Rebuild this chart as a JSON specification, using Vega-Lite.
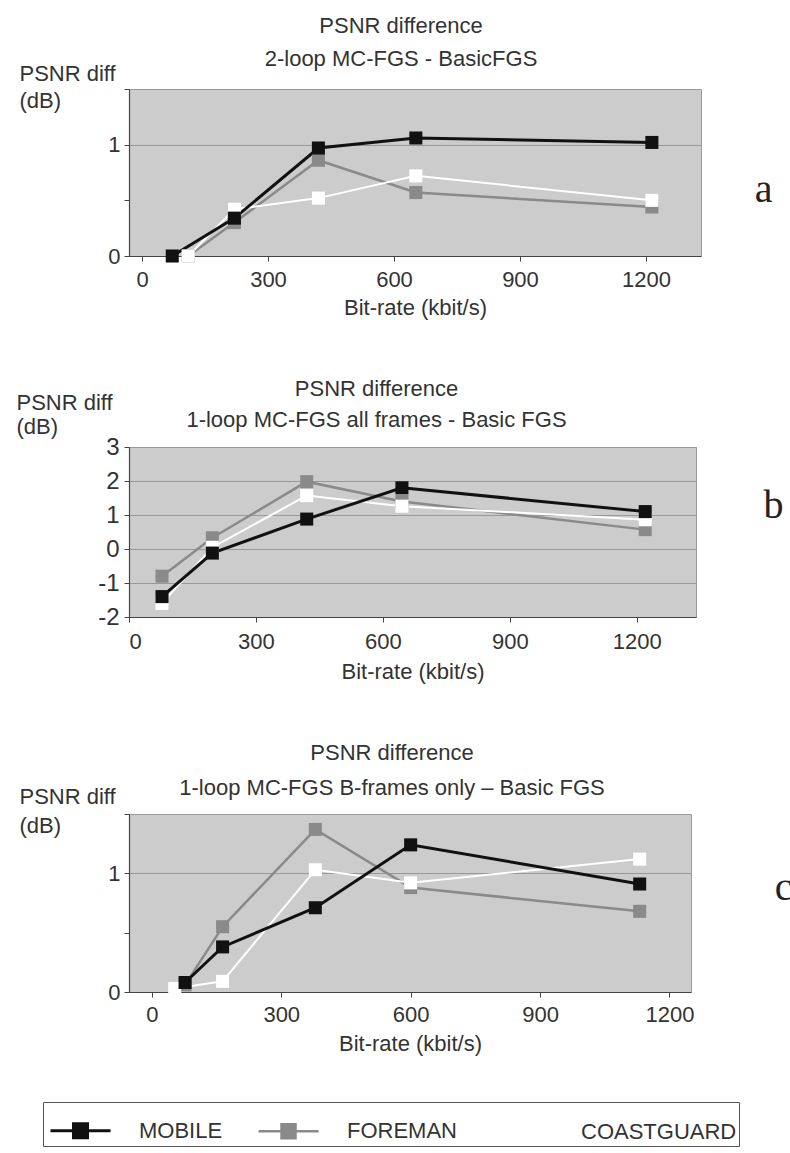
{
  "$schema": "https://vega.github.io/schema/vega-lite/v6.json",
  "padding": {"left": 15, "top": 14, "right": 0, "bottom": 0},
  "background": "white",
  "data": {"values": [
    {"panel": "a", "series": "FOREMAN", "rate": 110, "psnr": 0},
    {"panel": "a", "series": "FOREMAN", "rate": 220, "psnr": 0.3},
    {"panel": "a", "series": "FOREMAN", "rate": 420, "psnr": 0.86},
    {"panel": "a", "series": "FOREMAN", "rate": 652, "psnr": 0.57},
    {"panel": "a", "series": "FOREMAN", "rate": 1214, "psnr": 0.44},
    {"panel": "a", "series": "COASTGUARD", "rate": 110, "psnr": 0},
    {"panel": "a", "series": "COASTGUARD", "rate": 220, "psnr": 0.42},
    {"panel": "a", "series": "COASTGUARD", "rate": 420, "psnr": 0.52},
    {"panel": "a", "series": "COASTGUARD", "rate": 652, "psnr": 0.72},
    {"panel": "a", "series": "COASTGUARD", "rate": 1214, "psnr": 0.5},
    {"panel": "a", "series": "MOBILE", "rate": 72, "psnr": 0},
    {"panel": "a", "series": "MOBILE", "rate": 220, "psnr": 0.34},
    {"panel": "a", "series": "MOBILE", "rate": 420, "psnr": 0.97},
    {"panel": "a", "series": "MOBILE", "rate": 652, "psnr": 1.06},
    {"panel": "a", "series": "MOBILE", "rate": 1214, "psnr": 1.02},
    {"panel": "b", "series": "FOREMAN", "rate": 78, "psnr": -0.8},
    {"panel": "b", "series": "FOREMAN", "rate": 197, "psnr": 0.33},
    {"panel": "b", "series": "FOREMAN", "rate": 420, "psnr": 1.98},
    {"panel": "b", "series": "FOREMAN", "rate": 645, "psnr": 1.4},
    {"panel": "b", "series": "FOREMAN", "rate": 1220, "psnr": 0.57},
    {"panel": "b", "series": "COASTGUARD", "rate": 78, "psnr": -1.6},
    {"panel": "b", "series": "COASTGUARD", "rate": 197, "psnr": 0.05},
    {"panel": "b", "series": "COASTGUARD", "rate": 420, "psnr": 1.57},
    {"panel": "b", "series": "COASTGUARD", "rate": 645, "psnr": 1.26},
    {"panel": "b", "series": "COASTGUARD", "rate": 1220, "psnr": 0.86},
    {"panel": "b", "series": "MOBILE", "rate": 78, "psnr": -1.4},
    {"panel": "b", "series": "MOBILE", "rate": 197, "psnr": -0.12},
    {"panel": "b", "series": "MOBILE", "rate": 420, "psnr": 0.88},
    {"panel": "b", "series": "MOBILE", "rate": 645, "psnr": 1.8},
    {"panel": "b", "series": "MOBILE", "rate": 1220, "psnr": 1.1},
    {"panel": "c", "series": "FOREMAN", "rate": 77, "psnr": 0.06},
    {"panel": "c", "series": "FOREMAN", "rate": 164, "psnr": 0.55},
    {"panel": "c", "series": "FOREMAN", "rate": 379, "psnr": 1.37},
    {"panel": "c", "series": "FOREMAN", "rate": 600, "psnr": 0.88},
    {"panel": "c", "series": "FOREMAN", "rate": 1131, "psnr": 0.68},
    {"panel": "c", "series": "COASTGUARD", "rate": 53, "psnr": 0.03},
    {"panel": "c", "series": "COASTGUARD", "rate": 164, "psnr": 0.09},
    {"panel": "c", "series": "COASTGUARD", "rate": 379, "psnr": 1.03},
    {"panel": "c", "series": "COASTGUARD", "rate": 600, "psnr": 0.92},
    {"panel": "c", "series": "COASTGUARD", "rate": 1131, "psnr": 1.12},
    {"panel": "c", "series": "MOBILE", "rate": 77, "psnr": 0.08},
    {"panel": "c", "series": "MOBILE", "rate": 164, "psnr": 0.38},
    {"panel": "c", "series": "MOBILE", "rate": 379, "psnr": 0.71},
    {"panel": "c", "series": "MOBILE", "rate": 600, "psnr": 1.24},
    {"panel": "c", "series": "MOBILE", "rate": 1131, "psnr": 0.91}
  ]},
  "spacing": 58,
  "vconcat": [
    {
      "width": 572, "height": 167,
      "title": {"text": "PSNR difference", "subtitle": "2-loop MC-FGS - BasicFGS", "offset": -9, "dx": -14, "subtitlePadding": 11},
      "transform": [{"filter": "datum.panel == 'a'"}],
      "encoding": {
        "x": {"field": "rate", "type": "quantitative", "scale": {"domain": [-31, 1331], "nice": false, "zero": false},
              "axis": {"values": [0, 300, 600, 900, 1200], "labelExpr": "'' + datum.value", "grid": false, "title": "Bit-rate (kbit/s)", "labelPadding": 8, "titlePadding": 7, "tickSize": 5}}
      },
      "layer": [
        {"mark": {"type": "line"},
         "encoding": {
           "y": {"field": "psnr", "type": "quantitative", "scale": {"domain": [0, 1.5], "nice": false},
                 "axis": {"values": [0, 0.5, 1, 1.5], "labelExpr": "datum.value == 0 || datum.value == 1 ? '' + datum.value : ''",
                          "gridOpacity": {"condition": {"test": "datum.value == 1", "value": 1}, "value": 0},
                          "tickSize": 5, "labelPadding": 4,
                          "title": ["PSNR diff", "(dB)"], "titleAngle": 0, "titleAlign": "left", "titleBaseline": "top",
                          "titleX": -110, "titleY": -26, "titleLineHeight": 27}},
           "color": {"field": "series", "type": "nominal", "scale": {"domain": ["MOBILE", "FOREMAN", "COASTGUARD"], "range": ["#111111", "#8a8a8a", "#ffffff"]},
                     "legend": {"title": null, "orient": "none", "legendX": -86, "legendY": 1013, "direction": "horizontal", "columns": 3,
                                "symbolType": "M-1.2,0H-0.28M0.28,0H1.2M-0.28,-0.28H0.28V0.28H-0.28Z", "symbolSize": 2500, "symbolStrokeWidth": 3, "symbolOffset": 9,
                                "labelFontSize": 22, "labelColor": "#333333", "labelOffset": 32, "columnPadding": 30, "padding": 2,
                                "strokeColor": "#555555", "fillColor": "#ffffff", "labelLimit": 300,
                                "encode": {"symbols": {"update": {"fill": {"scale": "color", "field": "value"}, "stroke": {"scale": "color", "field": "value"}, "opacity": {"value": 1}}}}}},
           "strokeWidth": {"field": "series", "type": "ordinal", "scale": {"domain": ["MOBILE", "FOREMAN", "COASTGUARD"], "range": [3, 2, 3]}, "legend": null}
         }},
        {"mark": {"type": "square", "size": 170, "filled": true, "opacity": 1},
         "encoding": {
           "y": {"field": "psnr", "type": "quantitative",
                 "axis": {"orient": "right", "domain": false, "ticks": false, "labels": false, "grid": false,
                          "title": "a", "titleAngle": 0, "titleFont": "Liberation Serif", "titleFontSize": 40, "titleColor": "#222222",
                          "titleAlign": "center", "titleBaseline": "middle", "titleX": 62, "titleY": 100}},
           "color": {"field": "series", "type": "nominal",
                     "legend": {"title": null, "orient": "none", "legendX": -86, "legendY": 1013, "direction": "horizontal", "columns": 3,
                                "symbolType": "M-1.2,0H-0.28M0.28,0H1.2M-0.28,-0.28H0.28V0.28H-0.28Z", "symbolSize": 2500, "symbolStrokeWidth": 3, "symbolOffset": 9,
                                "labelFontSize": 22, "labelColor": "#333333", "labelOffset": 32, "columnPadding": 30, "padding": 2,
                                "strokeColor": "#555555", "fillColor": "#ffffff", "labelLimit": 300,
                                "encode": {"symbols": {"update": {"fill": {"scale": "color", "field": "value"}, "stroke": {"scale": "color", "field": "value"}, "opacity": {"value": 1}}}}}}
         }}
      ],
      "resolve": {"axis": {"y": "independent"}}
    },
    {
      "width": 567, "height": 170,
      "title": {"text": "PSNR difference", "subtitle": "1-loop MC-FGS all frames - Basic FGS", "offset": -41, "dx": -36, "subtitlePadding": 9},
      "transform": [{"filter": "datum.panel == 'b'"}],
      "encoding": {
        "x": {"field": "rate", "type": "quantitative", "scale": {"domain": [0, 1340], "nice": false, "zero": false},
              "axis": {"values": [0, 300, 600, 900, 1200], "labelExpr": "'' + datum.value", "grid": false, "title": "Bit-rate (kbit/s)", "labelPadding": 9, "titlePadding": 9, "tickSize": 5}}
      },
      "layer": [
        {"mark": {"type": "line"},
         "encoding": {
           "y": {"field": "psnr", "type": "quantitative", "scale": {"domain": [-2, 3], "nice": false},
                 "axis": {"values": [-2, -1, 0, 1, 2, 3], "labelExpr": "'' + datum.value", "grid": true,
                          "tickSize": 5, "labelPadding": 5, "labelFontSize": 24,
                          "title": ["PSNR diff", "(dB)"], "titleAngle": 0, "titleAlign": "left", "titleBaseline": "top",
                          "titleX": -113, "titleY": -55, "titleLineHeight": 24}},
           "color": {"field": "series", "type": "nominal",
                     "legend": {"title": null, "orient": "none", "legendX": -86, "legendY": 1013, "direction": "horizontal", "columns": 3,
                                "symbolType": "M-1.2,0H-0.28M0.28,0H1.2M-0.28,-0.28H0.28V0.28H-0.28Z", "symbolSize": 2500, "symbolStrokeWidth": 3, "symbolOffset": 9,
                                "labelFontSize": 22, "labelColor": "#333333", "labelOffset": 32, "columnPadding": 30, "padding": 2,
                                "strokeColor": "#555555", "fillColor": "#ffffff", "labelLimit": 300,
                                "encode": {"symbols": {"update": {"fill": {"scale": "color", "field": "value"}, "stroke": {"scale": "color", "field": "value"}, "opacity": {"value": 1}}}}}},
           "strokeWidth": {"field": "series", "type": "ordinal", "legend": null}
         }},
        {"mark": {"type": "square", "size": 170, "filled": true, "opacity": 1},
         "encoding": {
           "y": {"field": "psnr", "type": "quantitative",
                 "axis": {"orient": "right", "domain": false, "ticks": false, "labels": false, "grid": false,
                          "title": "b", "titleAngle": 0, "titleFont": "Liberation Serif", "titleFontSize": 40, "titleColor": "#222222",
                          "titleAlign": "center", "titleBaseline": "middle", "titleX": 77, "titleY": 58}},
           "color": {"field": "series", "type": "nominal",
                     "legend": {"title": null, "orient": "none", "legendX": -86, "legendY": 1013, "direction": "horizontal", "columns": 3,
                                "symbolType": "M-1.2,0H-0.28M0.28,0H1.2M-0.28,-0.28H0.28V0.28H-0.28Z", "symbolSize": 2500, "symbolStrokeWidth": 3, "symbolOffset": 9,
                                "labelFontSize": 22, "labelColor": "#333333", "labelOffset": 32, "columnPadding": 30, "padding": 2,
                                "strokeColor": "#555555", "fillColor": "#ffffff", "labelLimit": 300,
                                "encode": {"symbols": {"update": {"fill": {"scale": "color", "field": "value"}, "stroke": {"scale": "color", "field": "value"}, "opacity": {"value": 1}}}}}}
         }}
      ],
      "resolve": {"axis": {"y": "independent"}}
    },
    {
      "width": 562, "height": 178,
      "title": {"text": "PSNR difference", "subtitle": "1-loop MC-FGS B-frames only – Basic FGS", "offset": -15, "dx": -18, "subtitlePadding": 13},
      "transform": [{"filter": "datum.panel == 'c'"}],
      "encoding": {
        "x": {"field": "rate", "type": "quantitative", "scale": {"domain": [-53, 1250], "nice": false, "zero": false},
              "axis": {"values": [0, 300, 600, 900, 1200], "labelExpr": "'' + datum.value", "grid": false, "title": "Bit-rate (kbit/s)", "labelPadding": 7, "titlePadding": 8, "tickSize": 5}}
      },
      "layer": [
        {"mark": {"type": "line"},
         "encoding": {
           "y": {"field": "psnr", "type": "quantitative", "scale": {"domain": [0, 1.5], "nice": false},
                 "axis": {"values": [0, 0.5, 1, 1.5], "labelExpr": "datum.value == 0 || datum.value == 1 ? '' + datum.value : ''",
                          "gridOpacity": {"condition": {"test": "datum.value == 1", "value": 1}, "value": 0},
                          "tickSize": 5, "labelPadding": 4,
                          "title": ["PSNR diff", "(dB)"], "titleAngle": 0, "titleAlign": "left", "titleBaseline": "top",
                          "titleX": -110, "titleY": -28, "titleLineHeight": 29}},
           "color": {"field": "series", "type": "nominal",
                     "legend": {"title": null, "orient": "none", "legendX": -86, "legendY": 1013, "direction": "horizontal", "columns": 3,
                                "symbolType": "M-1.2,0H-0.28M0.28,0H1.2M-0.28,-0.28H0.28V0.28H-0.28Z", "symbolSize": 2500, "symbolStrokeWidth": 3, "symbolOffset": 9,
                                "labelFontSize": 22, "labelColor": "#333333", "labelOffset": 32, "columnPadding": 30, "padding": 2,
                                "strokeColor": "#555555", "fillColor": "#ffffff", "labelLimit": 300,
                                "encode": {"symbols": {"update": {"fill": {"scale": "color", "field": "value"}, "stroke": {"scale": "color", "field": "value"}, "opacity": {"value": 1}}}}}},
           "strokeWidth": {"field": "series", "type": "ordinal", "legend": null}
         }},
        {"mark": {"type": "square", "size": 170, "filled": true, "opacity": 1},
         "encoding": {
           "y": {"field": "psnr", "type": "quantitative",
                 "axis": {"orient": "right", "domain": false, "ticks": false, "labels": false, "grid": false,
                          "title": "c", "titleAngle": 0, "titleFont": "Liberation Serif", "titleFontSize": 40, "titleColor": "#222222",
                          "titleAlign": "center", "titleBaseline": "middle", "titleX": 92, "titleY": 73}},
           "color": {"field": "series", "type": "nominal",
                     "legend": {"title": null, "orient": "none", "legendX": -86, "legendY": 1013, "direction": "horizontal", "columns": 3,
                                "symbolType": "M-1.2,0H-0.28M0.28,0H1.2M-0.28,-0.28H0.28V0.28H-0.28Z", "symbolSize": 2500, "symbolStrokeWidth": 3, "symbolOffset": 9,
                                "labelFontSize": 22, "labelColor": "#333333", "labelOffset": 32, "columnPadding": 30, "padding": 2,
                                "strokeColor": "#555555", "fillColor": "#ffffff", "labelLimit": 300,
                                "encode": {"symbols": {"update": {"fill": {"scale": "color", "field": "value"}, "stroke": {"scale": "color", "field": "value"}, "opacity": {"value": 1}}}}}}
         }}
      ],
      "resolve": {"axis": {"y": "independent"}}
    }
  ],
  "resolve": {"scale": {"color": "shared", "strokeWidth": "shared"}},
  "config": {
    "font": "Liberation Sans, Arial, sans-serif",
    "view": {"fill": "#cccccc", "stroke": "#9a9a9a", "strokeWidth": 1},
    "axis": {"labelFontSize": 22, "titleFontSize": 22, "titleFontWeight": "normal", "labelColor": "#333333", "titleColor": "#333333",
             "domainColor": "#444444", "tickColor": "#444444", "gridColor": "#999999", "domainWidth": 1.2,
             "labelFont": "Liberation Sans, Arial, sans-serif", "titleFont": "Liberation Sans, Arial, sans-serif"},
    "title": {"fontSize": 22, "fontWeight": "normal", "color": "#333333", "subtitleFontSize": 22, "subtitleColor": "#333333", "anchor": "middle",
              "font": "Liberation Sans, Arial, sans-serif", "subtitleFont": "Liberation Sans, Arial, sans-serif"},
    "legend": {"labelFont": "Liberation Sans, Arial, sans-serif"}
  }
}
